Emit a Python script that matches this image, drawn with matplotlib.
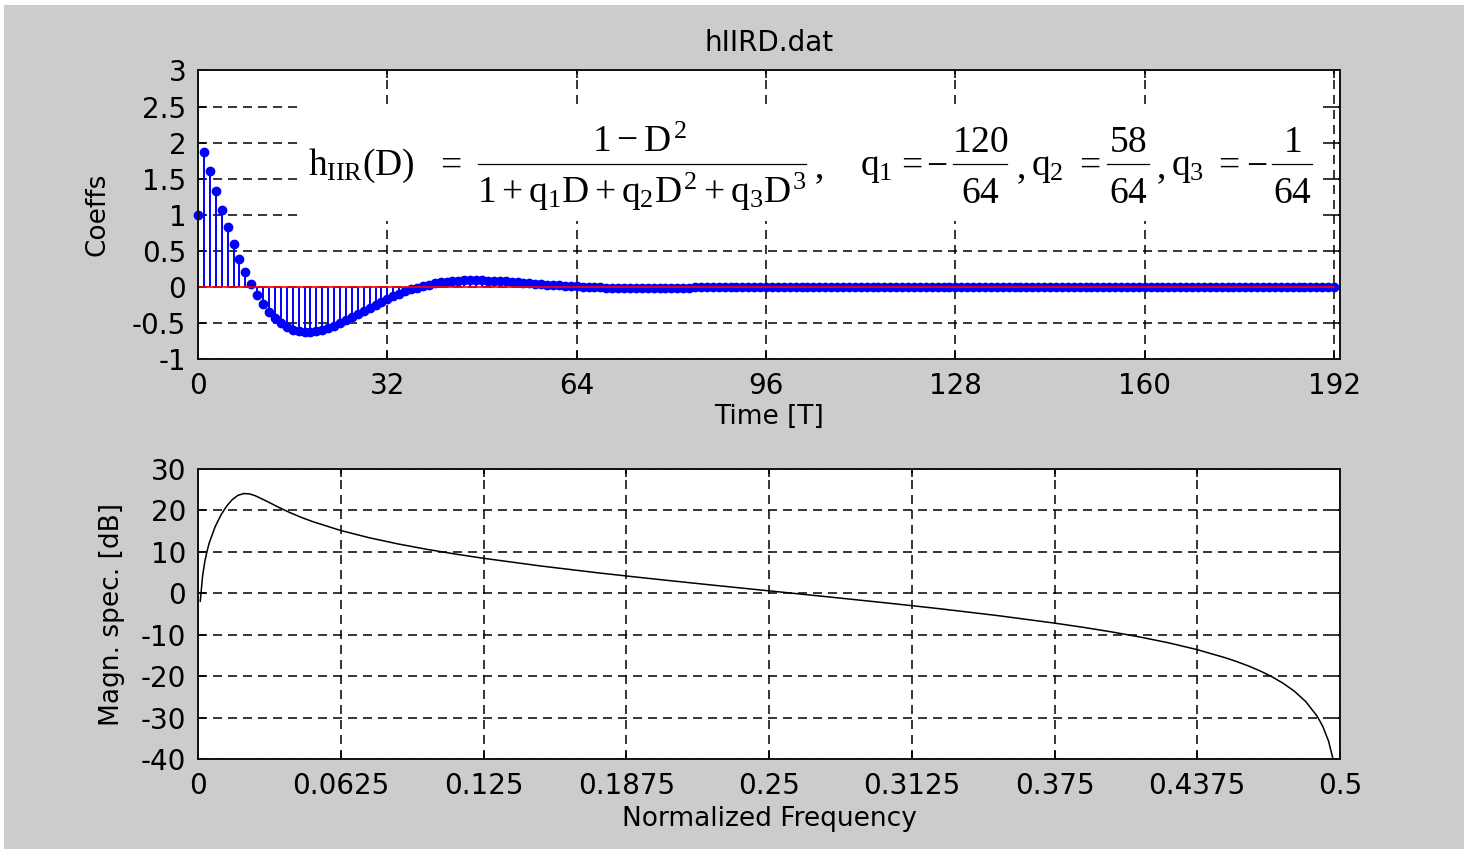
import matplotlib
matplotlib.use('Agg')
import matplotlib.pyplot as plt
from matplotlib.patches import Rectangle
from matplotlib.lines import Line2D

# impulse response h_IIR[n], n = 0..192
coeffs = [
    1.000, 1.875, 1.609, 1.334, 1.072, 0.826, 0.599, 0.390, 0.202, 0.035, -0.112, -0.238, -0.345, -0.432, -0.502, -0.554,
    -0.591, -0.614, -0.625, -0.624, -0.613, -0.594, -0.568, -0.536, -0.500, -0.460, -0.418, -0.375, -0.331, -0.288, -0.245, -0.204,
    -0.165, -0.128, -0.094, -0.063, -0.035, -0.009, 0.013, 0.032, 0.048, 0.062, 0.072, 0.081, 0.086, 0.090, 0.092, 0.092,
    0.091, 0.088, 0.085, 0.080, 0.075, 0.069, 0.063, 0.056, 0.050, 0.044, 0.037, 0.031, 0.025, 0.020, 0.015, 0.010,
    0.006, 0.002, -0.001, -0.004, -0.007, -0.009, -0.010, -0.012, -0.013, -0.013, -0.014, -0.014, -0.013, -0.013, -0.013, -0.012,
    -0.011, -0.010, -0.009, -0.009, -0.008, -0.007, -0.006, -0.005, -0.004, -0.003, -0.002, -0.002, -0.001, 0.000, 0.000, 0.001,
    0.001, 0.001, 0.001, 0.001, 0.001, 0.001, 0.001, 0.001, 0.001, 0.001, 0.001, 0.001, 0.001, 0.001, 0.001, 0.001,
    0.001, 0.001, 0.001, 0.001, 0.001, 0.000, 0.000, 0.000, 0.000, 0.000, 0.000, 0.000, 0.000, 0.000, 0.000, 0.000,
    0.000, 0.000, 0.000, 0.000, 0.000, 0.000, 0.000, 0.000, 0.000, 0.000, 0.000, 0.000, 0.000, 0.000, 0.000, 0.000,
    0.000, 0.000, 0.000, 0.000, 0.000, 0.000, 0.000, 0.000, 0.000, 0.000, 0.000, 0.000, 0.000, 0.000, 0.000, 0.000,
    0.000, 0.000, 0.000, 0.000, 0.000, 0.000, 0.000, 0.000, 0.000, 0.000, 0.000, 0.000, 0.000, 0.000, 0.000, 0.000,
    0.000, 0.000, 0.000, 0.000, 0.000, 0.000, 0.000, 0.000, 0.000, 0.000, 0.000, 0.000, 0.000, 0.000, 0.000, 0.000,
    0.000,
]
time_idx = list(range(len(coeffs)))

# magnitude spectrum (normalized frequency, dB)
freq = [0.001, 0.002, 0.003, 0.004, 0.005, 0.0075, 0.01, 0.0125, 0.015, 0.0175,
        0.02, 0.0225, 0.025, 0.03, 0.035, 0.04, 0.045, 0.05, 0.0625, 0.075,
        0.0875, 0.1, 0.1125, 0.125, 0.15, 0.175, 0.1875, 0.2, 0.225, 0.25,
        0.275, 0.3, 0.3125, 0.325, 0.35, 0.375, 0.3875, 0.4, 0.4125, 0.425,
        0.4375, 0.45, 0.455, 0.46, 0.465, 0.47, 0.475, 0.48, 0.485, 0.49,
        0.4925, 0.495, 0.497]
mag_db = [-1.88, 4.17, 7.73, 10.29, 12.31, 16.08, 18.86, 21.02, 22.63, 23.65,
          24.08, 24.00, 23.57, 22.26, 20.85, 19.55, 18.39, 17.35, 15.17, 13.42,
          11.94, 10.65, 9.51, 8.47, 6.62, 4.97, 4.21, 3.46, 2.02, 0.62,
          -0.78, -2.21, -2.95, -3.71, -5.34, -7.16, -8.17, -9.28, -10.52, -11.92,
          -13.56, -15.55, -16.48, -17.51, -18.68, -20.03, -21.63, -23.57, -26.08, -29.60,
          -32.10, -35.63, -40.06]

top_xticks = [0, 32, 64, 96, 128, 160, 192]
top_yticks = [-1, -0.5, 0, 0.5, 1, 1.5, 2, 2.5, 3]
top_ylabels = ['-1', '-0.5', '0', '0.5', '1', '1.5', '2', '2.5', '3']
bot_xticks = [0, 0.0625, 0.125, 0.1875, 0.25, 0.3125, 0.375, 0.4375, 0.5]
bot_xlabels = ['0', '0.0625', '0.125', '0.1875', '0.25', '0.3125', '0.375', '0.4375', '0.5']
bot_yticks = [-40, -30, -20, -10, 0, 10, 20, 30]
bot_ylabels = ['-40', '-30', '-20', '-10', '0', '10', '20', '30']

plt.rcParams['font.family'] = ['DejaVu Sans']
plt.rcParams['lines.scale_dashes'] = False
plt.rcParams['mathtext.fontset'] = 'custom'
plt.rcParams['mathtext.rm'] = 'Liberation Serif'
plt.rcParams['mathtext.it'] = 'Liberation Serif'
plt.rcParams['mathtext.bf'] = 'Liberation Serif:bold'

W, H = 1464, 849
fig = plt.figure(figsize=(W / 100, H / 100), dpi=100, facecolor='#cccccc')


def fx(px):
    return px / W


def fy(py):
    return 1 - py / H


# white strips at the top and left edge of the screenshot
fig.patches.append(Rectangle((0, fy(5)), 1, 5 / H, transform=fig.transFigure,
                             facecolor='white', edgecolor='none', zorder=-1))
fig.patches.append(Rectangle((0, 0), fx(4), 1, transform=fig.transFigure,
                             facecolor='white', edgecolor='none', zorder=-1))

ax1 = fig.add_axes([fx(198), fy(359), 1142 / W, 288.5 / H])
ax2 = fig.add_axes([fx(198), fy(759.3), 1142 / W, 290.3 / H])

grid_style = dict(color='black', linestyle=(0, (6.5, 4.3)), linewidth=1.1)

for ax in (ax1, ax2):
    ax.set_facecolor('white')
    ax.set_axisbelow(True)
    ax.grid(True, **grid_style)
    ax.tick_params(direction='in', length=6, width=1.1, top=True, right=True,
                   labelsize=20, colors='black')
    ax.tick_params(axis='x', pad=9)
    ax.tick_params(axis='y', pad=8.5)
    for sp in ax.spines.values():
        sp.set_linewidth(1.4)
        sp.set_color('#111111')

# top: stem plot of the coefficients
markerline, stemlines, baseline = ax1.stem(time_idx, coeffs, linefmt='b-', markerfmt='bo', basefmt='r-')
markerline.set_markersize(6)
markerline.set_markerfacecolor('#0000ff')
markerline.set_markeredgecolor('#0000ff')
markerline.set_clip_on(False)
stemlines.set_linewidth(1.4)
stemlines.set_color('#0000ff')
baseline.set_color('#ff0000')
baseline.set_linewidth(1.2)

ax1.set_xlim(0, 193)
ax1.set_ylim(-1, 3)
ax1.set_xticks(top_xticks)
ax1.set_xticklabels([str(t) for t in top_xticks])
ax1.set_yticks(top_yticks)
ax1.set_yticklabels(top_ylabels)
ax1.set_title('hIIRD.dat', fontsize=20, pad=14)
ax1.set_xlabel('Time [T]', fontsize=19)
ax1.set_ylabel('Coeffs', fontsize=19)
ax1.xaxis.set_label_coords(0.5, -0.156)
ax1.yaxis.set_label_coords(-0.077, 0.5)

# white box behind the formula
ax1.add_patch(Rectangle((fx(300), fy(221)), 1022 / W, 116 / H, transform=fig.transFigure,
                        facecolor='white', edgecolor='none', zorder=1))

# formula, laid out piece by piece (pixel positions from the reference)
eq_size = 27
main_base, num_base, den_base, bar_y = 175, 152, 203, 164


def eq_text(x, y, s, ha='left'):
    fig.text(fx(x), fy(y), s, fontsize=eq_size, ha=ha, va='baseline', zorder=5)


def eq_bar(x0, x1):
    fig.add_artist(Line2D([fx(x0), fx(x1)], [fy(bar_y), fy(bar_y)], transform=fig.transFigure,
                          color='black', linewidth=0.9, zorder=5))


eq_text(308, main_base, r'$h_{IIR}(D)$')
eq_text(449, main_base, r'$=$', ha='center')
eq_text(639, num_base, r'$1-D^2$', ha='center')
eq_bar(478, 806)
eq_text(642, den_base, r'$1+q_1D+q_2D^2+q_3D^3$', ha='center')
eq_text(814, main_base + 3, r'$,$')

eq_text(860, main_base, r'$q_1$')
eq_text(910, main_base, r'$=$', ha='center')
eq_text(937, main_base, r'$-$', ha='center')
eq_text(980, num_base, r'$120$', ha='center')
eq_bar(953, 1007)
eq_text(980, den_base, r'$64$', ha='center')

eq_text(1016, main_base + 3, r'$,$')
eq_text(1031, main_base, r'$q_2$')
eq_text(1088, main_base, r'$=$', ha='center')
eq_text(1128, num_base, r'$58$', ha='center')
eq_bar(1107, 1149)
eq_text(1128, den_base, r'$64$', ha='center')

eq_text(1156, main_base + 3, r'$,$')
eq_text(1171, main_base, r'$q_3$')
eq_text(1227, main_base, r'$=$', ha='center')
eq_text(1257, main_base, r'$-$', ha='center')
eq_text(1292, num_base, r'$1$', ha='center')
eq_bar(1272, 1312)
eq_text(1292, den_base, r'$64$', ha='center')

# bottom: magnitude spectrum
ax2.plot(freq, mag_db, color='black', linewidth=1.1)
ax2.set_xlim(0, 0.5)
ax2.set_ylim(-40, 30)
ax2.set_xticks(bot_xticks)
ax2.set_xticklabels(bot_xlabels)
ax2.set_yticks(bot_yticks)
ax2.set_yticklabels(bot_ylabels)
ax2.set_xlabel('Normalized Frequency', fontsize=19)
ax2.set_ylabel('Magn. spec. [dB]', fontsize=19)
ax2.xaxis.set_label_coords(0.5, -0.161)
ax2.yaxis.set_label_coords(-0.064, 0.5)

fig.savefig('out.png', dpi=100, facecolor=fig.get_facecolor())
